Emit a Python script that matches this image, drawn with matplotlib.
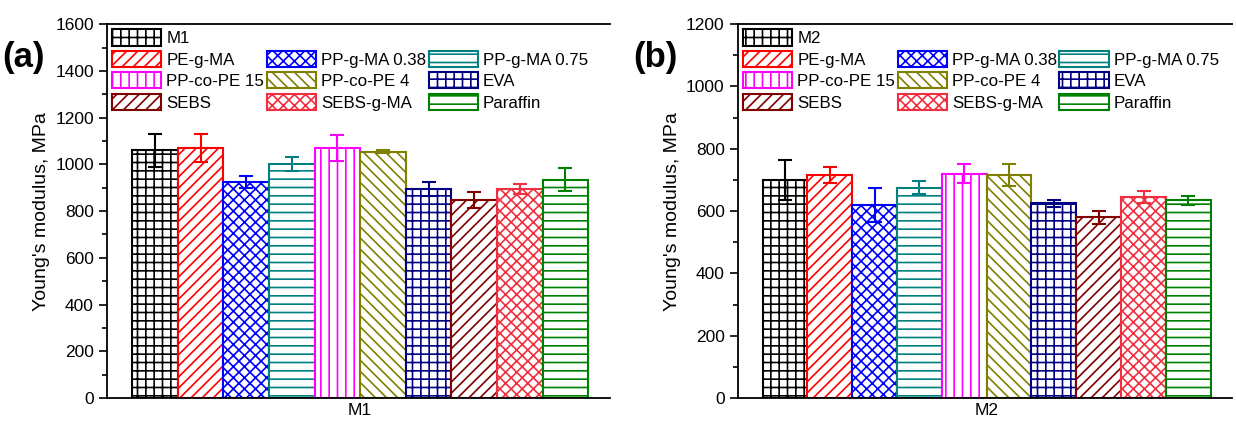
import matplotlib
matplotlib.use("Agg")
import matplotlib.pyplot as plt
from matplotlib.patches import Rectangle
from matplotlib.ticker import MultipleLocator

# ====== DATA =======
labels = ["M1", "PE-g-MA", "PP-g-MA 0.38", "PP-g-MA 0.75", "PP-co-PE 15",
          "PP-co-PE 4", "EVA", "SEBS", "SEBS-g-MA", "Paraffin"]
m1_vals = [1060, 1070, 925, 1000, 1070, 1055, 895, 848, 895, 935]
m1_err = [70, 60, 25, 30, 55, 5, 30, 35, 20, 50]
m2_vals = [700, 715, 620, 675, 720, 715, 625, 580, 645, 635]
m2_err = [65, 25, 55, 20, 30, 35, 12, 20, 18, 15]

colors = ["black", "red", "blue", "#008080", "magenta", "#808000",
          "#000080", "#800000", "#f03040", "#008000"]
hatches = ["++", "///", "xxx", "--", "||", "\\\\\\", "++", "///", "xxx", "--"]

plt.rcParams["font.family"] = "Liberation Sans"
plt.rcParams["hatch.linewidth"] = 1.2

fig = plt.figure(figsize=(12.36, 4.21), dpi=100)
ax1 = fig.add_axes([0.0866, 0.0546, 0.407, 0.888])
ax2 = fig.add_axes([0.597, 0.0546, 0.40, 0.888])


def draw_panel(ax, vals, errs, base, ymax, major, tag):
    bars = []
    for i, (v, e) in enumerate(zip(vals, errs)):
        b = ax.bar(i, v, width=1.0, facecolor="white", edgecolor=colors[i],
                   hatch=hatches[i], linewidth=1.5)
        ax.errorbar(i, v, yerr=e, color=colors[i], capsize=5, elinewidth=1.5,
                    capthick=1.5)
        bars.append(b)
    ax.set_xlim(-1.05, 9.98)
    ax.set_ylim(0, ymax)
    ax.set_xticks([4.5])
    ax.set_xticklabels([base])
    ax.yaxis.set_major_locator(MultipleLocator(major))
    ax.yaxis.set_minor_locator(MultipleLocator(major / 2))
    ax.tick_params(axis="y", which="major", length=6, width=1.2, labelsize=12.5)
    ax.tick_params(axis="y", which="minor", length=3.5, width=1.2)
    ax.tick_params(axis="x", length=0, labelsize=12.5)
    ax.set_ylabel("Young's modulus, MPa", fontsize=14)
    ax.spines["right"].set_visible(False)
    for s in ["left", "top", "bottom"]:
        ax.spines[s].set_linewidth(1.3)

    blank = Rectangle((0, 0), 1, 1, visible=False)
    handles = [bars[0], bars[1], bars[4], bars[7],
               blank, bars[2], bars[5], bars[8],
               blank, bars[3], bars[6], bars[9]]
    names = [base, labels[1], labels[4], labels[7],
             "", labels[2], labels[5], labels[8],
             "", labels[3], labels[6], labels[9]]
    ax.legend(handles, names, ncol=3, loc="upper left", frameon=False,
              fontsize=12.2, handlelength=2.9, handleheight=1.1,
              labelspacing=0.27, columnspacing=0.15, handletextpad=0.3,
              borderaxespad=0.1, borderpad=0.2)
    fig.text(ax.get_position().x0 - 0.085, 0.84, tag, fontsize=25,
             fontweight="bold")


draw_panel(ax1, m1_vals, m1_err, "M1", 1600, 200, "(a)")
draw_panel(ax2, m2_vals, m2_err, "M2", 1200, 200, "(b)")

fig.savefig("out.png", dpi=100)
